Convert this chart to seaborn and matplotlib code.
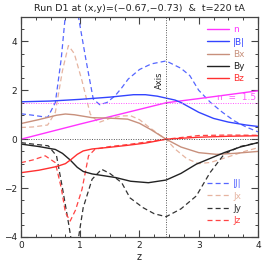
import numpy as np
import pandas as pd
import matplotlib
matplotlib.use("Agg")
import matplotlib.pyplot as plt
import seaborn as sns
from matplotlib.lines import Line2D
from matplotlib.ticker import MultipleLocator

# ---- data ----
n_z = [0, 0.5, 1.0, 1.5, 2.0, 2.45, 3.0, 3.5, 4.0]
n_v = [0.0, 0.31, 0.62, 0.92, 1.22, 1.49, 1.66, 1.82, 1.98]

B_z = [0, 0.5, 1.0, 1.5, 1.9, 2.1, 2.3, 2.45, 2.6, 2.7, 2.85, 3.0, 3.25, 3.5, 3.8, 4.0]
B_v = [1.53, 1.56, 1.63, 1.72, 1.82, 1.82, 1.76, 1.68, 1.6, 1.5, 1.3, 1.1, 0.85, 0.7, 0.58, 0.52]

Bx_z = [0, 0.3, 0.6, 0.75, 0.9, 1.2, 1.5, 1.8, 2.0, 2.2, 2.45, 2.7, 3.0, 3.3, 3.6, 4.0]
Bx_v = [0.64, 0.8, 0.98, 1.03, 1.0, 0.88, 0.86, 0.82, 0.65, 0.38, 0.0, -0.32, -0.55, -0.62, -0.58, -0.5]

By_z = [0, 0.3, 0.58, 0.7, 0.83, 0.95, 1.05, 1.2, 1.6, 1.85, 2.15, 2.45, 2.7, 2.96, 3.2, 3.43, 3.7, 4.0]
By_v = [-0.2, -0.3, -0.42, -0.58, -0.85, -1.15, -1.32, -1.42, -1.57, -1.72, -1.78, -1.67, -1.4, -1.02, -0.78, -0.55, -0.32, -0.14]

Bz_z = [0, 0.3, 0.6, 0.75, 0.85, 0.95, 1.05, 1.2, 1.5, 1.8, 2.1, 2.45, 3.0, 3.5, 4.0]
Bz_v = [-1.37, -1.27, -1.12, -1.0, -0.82, -0.62, -0.48, -0.4, -0.33, -0.25, -0.16, 0.0, 0.08, 0.12, 0.14]

J_z = [0, 0.2, 0.45, 0.58, 0.68, 0.75, 0.86, 0.97, 1.1, 1.22, 1.33, 1.45, 1.59, 1.7, 1.81, 2.0, 2.2,
       2.45, 2.7, 2.85, 3.0, 3.2, 3.4, 3.6, 3.8, 4.0]
J_v = [1.04, 0.98, 0.89, 1.5, 3.3, 5.1, 7.0, 5.0, 3.2, 1.64, 1.41, 1.5, 1.78, 2.1, 2.46, 2.85, 3.08,
       3.2, 2.9, 2.6, 2.0, 1.5, 1.1, 0.75, 0.5, 0.3]

Jx_z = [0, 0.2, 0.45, 0.58, 0.7, 0.8, 0.9, 1.03, 1.17, 1.31, 1.5, 1.7, 1.85, 2.0, 2.13, 2.36, 2.45,
        2.6, 2.8, 3.0, 3.2, 3.5, 3.8, 4.0]
Jx_v = [0.48, 0.5, 0.58, 1.1, 2.8, 3.83, 3.5, 2.39, 1.02, 0.68, 0.85, 0.95, 0.96, 0.8, 0.55, 0.14, 0.0,
        -0.4, -0.8, -1.0, -0.95, -0.72, -0.48, -0.35]

Jy_z = [0, 0.2, 0.46, 0.6, 0.7, 0.8, 0.88, 0.96, 1.05, 1.2, 1.36, 1.5, 1.7, 1.84, 2.06, 2.25, 2.45,
        2.7, 2.96, 3.19, 3.43, 3.7, 4.0]
Jy_v = [-0.14, -0.2, -0.27, -0.68, -2.0, -3.4, -4.6, -4.2, -2.8, -1.64, -1.23, -1.4, -1.78, -2.4, -2.8,
        -3.05, -3.17, -2.85, -2.32, -1.37, -0.61, -0.3, -0.14]

Jz_z = [0, 0.2, 0.41, 0.58, 0.68, 0.75, 0.83, 0.92, 1.03, 1.14, 1.25, 1.5, 1.8, 2.1, 2.45, 3.0, 3.5, 4.0]
Jz_v = [-0.96, -0.85, -0.68, -0.96, -2.0, -3.0, -3.35, -2.9, -2.05, -0.68, -0.41, -0.3, -0.22, -0.12,
        0.0, 0.15, 0.17, 0.16]

axis_z = 2.45
n_ref = 1.5

title = "Run D1 at (x,y)=(\u22120.67,\u22120.73)  &  t=220 tA"

solid_series = [("n", n_z, n_v, "#ff33ff"),
                ("|B|", B_z, B_v, "#3344ff"),
                ("Bx", Bx_z, Bx_v, "#c8907c"),
                ("By", By_z, By_v, "#222222"),
                ("Bz", Bz_z, Bz_v, "#ff3030")]
dashed_series = [("|J|", J_z, J_v, "#5566ff"),
                 ("Jx", Jx_z, Jx_v, "#e6b4a0"),
                 ("Jy", Jy_z, Jy_v, "#333333"),
                 ("Jz", Jz_z, Jz_v, "#ff4444")]

sns.set_style("ticks")
plt.rcParams["font.family"] = ["DejaVu Sans"]

fig = plt.figure(figsize=(2.69, 2.69), dpi=100)
ax = fig.add_axes([0.078, 0.119, 0.881, 0.818])

for name, zz, vv, col in dashed_series:
    sns.lineplot(x=zz, y=vv, ax=ax, color=col, linestyle=(0, (4, 2.5)), linewidth=0.9,
                 sort=False, estimator=None)
for name, zz, vv, col in solid_series:
    sns.lineplot(x=zz, y=vv, ax=ax, color=col, linewidth=1.0, sort=False, estimator=None)

ax.axhline(0, color="#555555", linestyle=(0, (1, 1.5)), linewidth=0.7)
ax.axhline(n_ref, color="#ff55ff", linestyle=(0, (1, 1.5)), linewidth=0.7)
ax.axvline(axis_z, color="#555555", linestyle=(0, (1, 1.5)), linewidth=0.7)

ax.text(axis_z - 0.03, 2.4, "Axis", rotation=90, ha="right", va="center", fontsize=6, color="#222222")
ax.text(3.97, n_ref + 0.02, "n  =  1.5", ha="right", va="bottom", fontsize=6.5, color="#ff55ff")

ax.set_xlim(0, 4)
ax.set_ylim(-4, 5)
ax.xaxis.set_major_locator(MultipleLocator(1))
ax.xaxis.set_minor_locator(MultipleLocator(0.25))
ax.yaxis.set_major_locator(MultipleLocator(2))
ax.yaxis.set_minor_locator(MultipleLocator(0.5))
ax.tick_params(which="both", direction="in", top=True, right=True, labelsize=6.5,
               color="#444444", labelcolor="#222222", pad=3)
ax.tick_params(which="major", length=5, width=0.8)
ax.tick_params(which="minor", length=2.5, width=0.7)
for s in ax.spines.values():
    s.set_color("#444444")
    s.set_linewidth(0.9)

ax.set_xlabel("z", fontsize=7, labelpad=1)
ax.set_ylabel("")
ax.set_title(title, fontsize=6.8, pad=4, color="#222222")

h1 = [Line2D([], [], color=c, linewidth=1.0) for _, _, _, c in solid_series]
leg1 = ax.legend(h1, [s[0] for s in solid_series], loc="upper left", bbox_to_anchor=(0.785, 0.962),
                 frameon=False, fontsize=6.5, handlelength=2.4, handletextpad=0.5,
                 labelspacing=0.36, labelcolor="linecolor", borderaxespad=0, borderpad=0)
ax.add_artist(leg1)
h2 = [Line2D([], [], color=c, linewidth=0.9, linestyle=(0, (4, 2.5))) for _, _, _, c in dashed_series]
ax.legend(h2, [s[0] for s in dashed_series], loc="upper left", bbox_to_anchor=(0.785, 0.262),
          frameon=False, fontsize=6.5, handlelength=2.4, handletextpad=0.5,
          labelspacing=0.36, labelcolor="linecolor", borderaxespad=0, borderpad=0)

fig.savefig("out.png", dpi=100)
